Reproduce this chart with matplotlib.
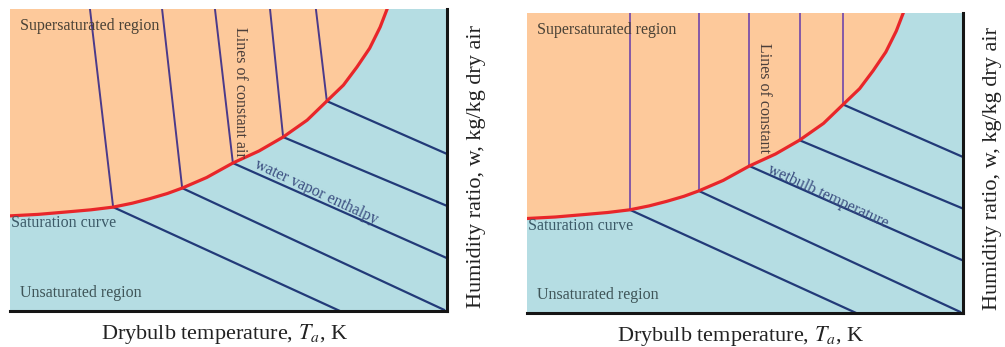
import numpy as np
import matplotlib
matplotlib.use("Agg")
import matplotlib.pyplot as plt

plt.rcParams['font.family'] = ['Liberation Serif', 'DejaVu Serif']
plt.rcParams['mathtext.fontset'] = 'stix'

# saturation curve (schematic units 0-100)
sat_x = [0, 6.5, 13.0, 18.5, 23.6, 28.0, 32.0, 36.0, 39.4, 45.0, 51.0,
         57.0, 62.5, 68.0, 72.5, 76.3, 79.4, 82.3, 84.7, 86.3]
sat_y = [31.5, 32.0, 32.8, 33.5, 34.4, 35.7, 37.2, 38.9, 40.7, 44.2, 49.0,
         53.0, 57.6, 63.2, 69.5, 74.8, 80.8, 87.0, 94.0, 100]

# points where the families of lines meet the saturation curve
meet_x = [23.6, 39.4, 51.0, 62.5, 72.5]
meet_y = [34.4, 40.7, 49.0, 57.6, 69.5]

# top end of the lines in the supersaturated region
top_left = [18.3, 34.8, 46.9, 59.5, 70.0]       # constant air enthalpy, tilted
top_right = [23.6, 39.4, 51.0, 62.5, 72.5]      # constant wetbulb, vertical

# far end of the lines in the unsaturated region
end_x = [75.5, 99.3, 100, 100, 100]
end_y = [0, 0.4, 17.5, 34.8, 52.0]

PEACH = '#fdc99b'
BLUE = '#b5dde3'


def draw_panel(ax, tops, upper_color, label_rot, label_slope, pos_rot, pos_slope):
    ax.set_facecolor(BLUE)
    ax.fill(sat_x + [0], sat_y + [100], color=PEACH, lw=0, zorder=1)
    for xt, xm, ym in zip(tops, meet_x, meet_y):
        ax.plot([xt, xm], [100, ym], color=upper_color, lw=1.4, zorder=2)
    for xm, ym, xe, ye in zip(meet_x, meet_y, end_x, end_y):
        ax.plot([xm, xe], [ym, ye], color='#223a78', lw=1.6, zorder=2)
    ax.plot(sat_x, sat_y, color='#e8262a', lw=2.3, zorder=3,
            solid_joinstyle='round')

    ax.set_xlim(0, 100)
    ax.set_ylim(0, 100)
    ax.set_xticks([])
    ax.set_yticks([])
    for s in ['top', 'left']:
        ax.spines[s].set_visible(False)
    for s in ['bottom', 'right']:
        ax.spines[s].set_linewidth(2.2)
        ax.spines[s].set_color('#151515')

    ax.text(2.4, 94.5, 'Supersaturated region', fontsize=11.5,
            color='#4a4236', va='center', ha='left', zorder=4)
    ax.text(0.3, 29.0, 'Saturation curve', fontsize=11.5,
            color='#3c5a68', va='center', ha='left', zorder=4)
    ax.text(2.4, 6.0, 'Unsaturated region', fontsize=11.5,
            color='#3f5558', va='center', ha='left', zorder=4)
    ax.text(pos_rot[0], pos_rot[1], label_rot, fontsize=11.5, rotation=-90,
            color='#4a3e3a', va='center', ha='center', zorder=4)
    ax.text(pos_slope[0], pos_slope[1], label_slope, fontsize=11.5, rotation=-25,
            color='#3b4e80', va='center', ha='center', zorder=4,
            rotation_mode='anchor')

    ax.text(0.49, -0.075, r'Drybulb temperature, $T_a$, K', fontsize=16,
            color='#222222', ha='center', va='center', transform=ax.transAxes)
    ax.text(1.068, 0.48, 'Humidity ratio, w, kg/kg dry air', fontsize=16,
            color='#222222', rotation=90, ha='center', va='center',
            transform=ax.transAxes)


fig = plt.figure(figsize=(10.05, 3.47), dpi=100)
ax1 = fig.add_axes([10 / 1005, 36 / 347, 437 / 1005, 302 / 347])
ax2 = fig.add_axes([527 / 1005, 34 / 347, 436 / 1005, 300 / 347])

draw_panel(ax1, top_left, '#4b3a8a', 'Lines of constant air',
           'water vapor enthalpy', (52.6, 72.5), (70.0, 39.5))
draw_panel(ax2, top_right, '#8458a8', 'Lines of constant',
           'wetbulb temperature', (54.4, 71.7), (69.0, 39.0))

fig.savefig('out.png', dpi=100)
